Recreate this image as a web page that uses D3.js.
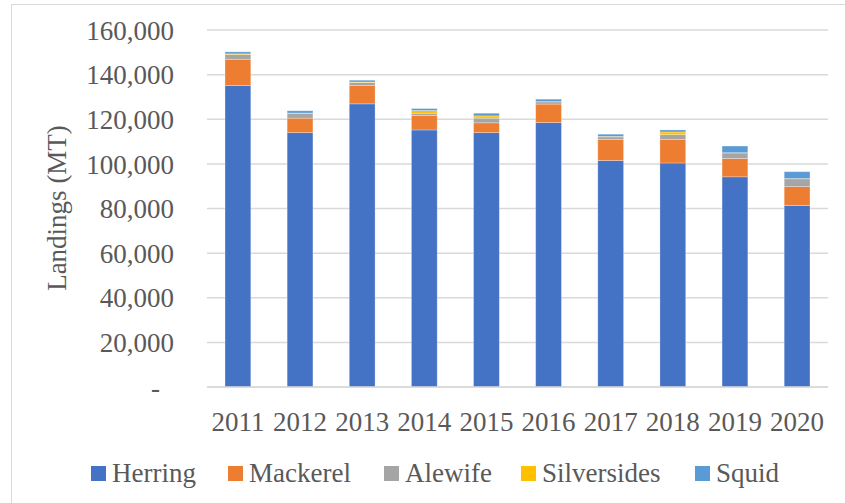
<!DOCTYPE html>
<html>
<head>
<meta charset="utf-8">
<script src="https://cdn.jsdelivr.net/npm/d3@7"></script>
<style>
  html, body { margin: 0; padding: 0; background: #fff; }
  svg { display: block; }
  text { font-family: "Liberation Serif", "Times New Roman", serif; }
</style>
</head>
<body>
<svg id="chart" width="845" height="503"></svg>
<script>
// ---- data ----
const years = ["2011","2012","2013","2014","2015","2016","2017","2018","2019","2020"];
const herring     = [135100,114000,126900,115200,114000,118500,101500,100400,94200,81300];
const mackerel    = [11800, 6500, 8200, 6500, 4400, 8300, 9400, 10500, 8200, 8500];
const alewife     = [2100, 2200, 1400, 1000, 2100, 1000, 1200, 2200, 2500, 3500];
const silversides = [300, 100, 200, 1200, 1000, 100, 200, 1200, 100, 100];
const squid       = [900, 1000, 800, 900, 1200, 1100, 1000, 900, 3000, 3100];
const seriesNames = ["Herring","Mackerel","Alewife","Silversides","Squid"];
const seriesColors = ["#4472C4","#ED7D31","#A5A5A5","#FFC000","#5B9BD5"];
const yTicks = [0,20000,40000,60000,80000,100000,120000,140000,160000];
const titleText = "Landings of top bait species by year, 2011–2020 (MT)";
const yLabel = "Landings (MT)";

const seriesValues = [herring, mackerel, alewife, silversides, squid];
const table = years.map((y, i) => {
  const row = { year: y };
  seriesNames.forEach((n, k) => row[n] = seriesValues[k][i]);
  return row;
});

const svg = d3.select("#chart");
const plot = { left: 207, right: 828, top: 30, bottom: 387 };

// outer frame
svg.append("rect").attr("x", 11.5).attr("y", 4.5).attr("width", 900).attr("height", 600)
  .attr("fill", "none").attr("stroke", "#d9d9d9").attr("stroke-width", 1);

// clipped title (only descender tips visible above the frame)
svg.append("text").attr("x", 600).attr("y", -8).attr("text-anchor", "middle")
  .attr("font-size", 28).attr("font-weight", "bold").attr("fill", "#000")
  .text(titleText);

const x = d3.scaleBand().domain(years).range([plot.left, plot.right]).paddingInner(0.585).paddingOuter(0.29);
const y = d3.scaleLinear().domain([0, 160000]).range([plot.bottom, plot.top]);

// gridlines
svg.append("g").selectAll("line").data(yTicks).join("line")
  .attr("x1", plot.left).attr("x2", plot.right)
  .attr("y1", d => y(d)).attr("y2", d => y(d))
  .attr("stroke", "#d9d9d9").attr("stroke-width", 1.5);

// y axis labels
const fmt = d3.format(",");
const yAxis = d3.axisLeft(y).tickValues(yTicks).tickSize(0).tickPadding(0)
  .tickFormat(d => d === 0 ? "-" : fmt(d));
const yg = svg.append("g").attr("transform", `translate(174,0)`).call(yAxis);
yg.select(".domain").remove();
yg.selectAll("text").attr("font-size", 27).attr("fill", "#595959")
  .attr("font-family", "Liberation Serif, Times New Roman, serif")
  .attr("dy", "0.34em")
  .attr("dx", d => d === 0 ? -14 : 0);

// y axis title
svg.append("text").attr("transform", `translate(66,208) rotate(-90)`)
  .attr("text-anchor", "middle").attr("font-size", 27).attr("fill", "#595959")
  .text(yLabel);

// stacked bars
const stack = d3.stack().keys(seriesNames);
const stacked = stack(table);
svg.append("g").selectAll("g").data(stacked).join("g")
  .attr("fill", (d, i) => seriesColors[i])
  .selectAll("rect").data(d => d).join("rect")
  .attr("x", d => x(d.data.year))
  .attr("width", x.bandwidth())
  .attr("y", d => y(d[1]))
  .attr("height", d => Math.max(0, y(d[0]) - y(d[1])))
  .attr("stroke", "#ffffff").attr("stroke-opacity", 0.35).attr("stroke-width", 0.8);

// baseline
svg.append("line").attr("x1", plot.left).attr("x2", plot.right)
  .attr("y1", y(0)).attr("y2", y(0)).attr("stroke", "#d9d9d9").attr("stroke-width", 1.5);

// x axis labels
const xAxis = d3.axisBottom(x).tickSize(0).tickPadding(0);
const xg = svg.append("g").call(xAxis);
xg.select(".domain").remove();
xg.selectAll("text").attr("font-size", 27).attr("fill", "#595959")
  .attr("font-family", "Liberation Serif, Times New Roman, serif")
  .attr("y", 431).attr("dy", 0);

// legend
const legendX = [91, 228, 384, 521, 695];
const lg = svg.append("g").selectAll("g").data(seriesNames).join("g")
  .attr("transform", (d, i) => `translate(${legendX[i]},0)`);
lg.append("rect").attr("x", 0).attr("y", 466).attr("width", 15).attr("height", 15)
  .attr("fill", (d, i) => seriesColors[i]);
lg.append("text").attr("x", 21).attr("y", 482).attr("font-size", 27).attr("fill", "#595959")
  .text(d => d);
</script>
</body>
</html>
